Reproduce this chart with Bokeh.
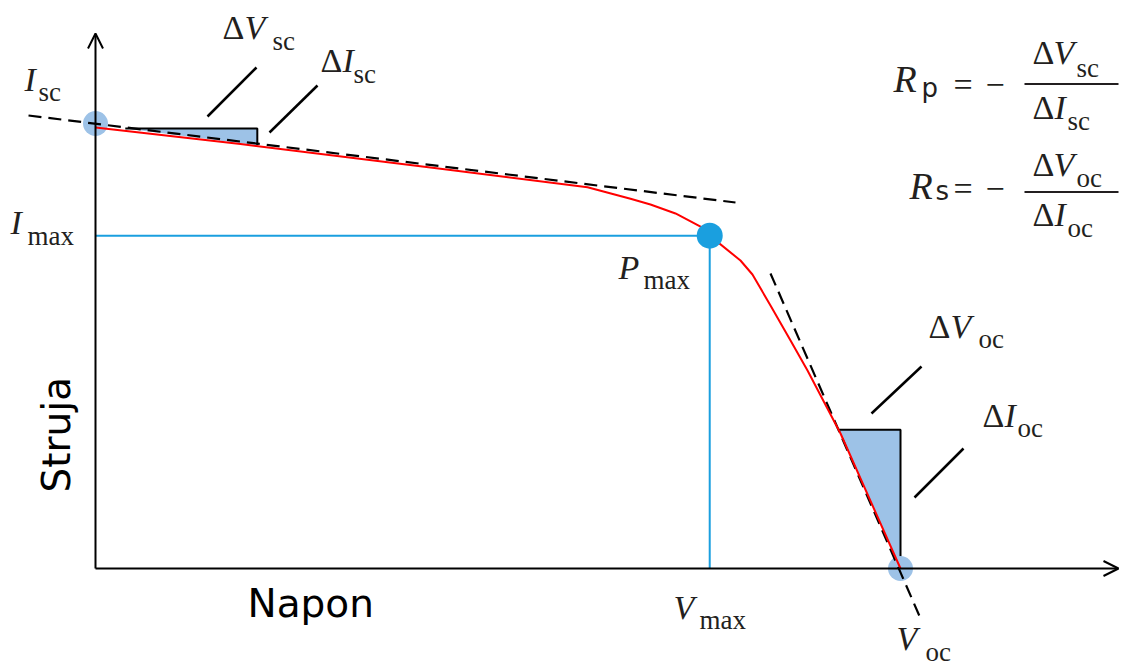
from bokeh.plotting import figure
from bokeh.models import Range1d, Arrow, OpenHead
from bokeh.core.properties import value
from bokeh.embed import file_html
from bokeh.resources import INLINE

# ---- data (normalised units: V_oc = 1, I_sc = 1) ----
curve_V = [0.0, 0.1801, 0.4286, 0.6112, 0.6646, 0.6894, 0.7205, 0.7516, 0.763, 0.8012, 0.8161, 0.8385, 0.8634, 0.8845, 0.9255, 1.0]
curve_I = [0.991, 0.9539, 0.8982, 0.8569, 0.8308, 0.8180, 0.7978, 0.7685, 0.748, 0.6921, 0.6607, 0.5910, 0.5124, 0.4449, 0.3034, 0.0]
I_sc = 1.0
V_oc = 1.0
V_max = 0.763
I_max = 0.748
tan_sc_V = [-0.0832, 0.795]
tan_sc_I = [1.018, 0.8225]
tan_oc_V = [0.8385, 1.0248]
tan_oc_I = [0.663, -0.112]
tri_sc_V = [0.037, 0.201, 0.201]
tri_sc_I = [0.989, 0.989, 0.951]
tri_oc_V = [0.923, 1.0, 1.0]
tri_oc_I = [0.312, 0.312, 0.0]
x_label = "Napon"
y_label = "Struja"

W, H = 1126, 666
PXV, PXI = 805.0, 445.0
OX, OY = 95.0, 568.0


def X(sx):
    return (sx - OX) / PXV


def Y(sy):
    return (OY - sy) / PXI


x0 = X(0)
y1 = Y(0)
p = figure(width=W, height=H, x_range=Range1d(x0, x0 + W / PXV), y_range=Range1d(y1 - H / PXI, y1),
           output_backend="svg", toolbar_location=None, min_border=0,
           x_axis_location=None, y_axis_location=None)
p.outline_line_color = None
p.grid.visible = False
p.background_fill_color = "white"

BLUE = "#1a9fdf"
LIGHT = "#9dc2e7"
INK = "#231f20"

# axes with arrows
p.add_layout(Arrow(end=OpenHead(size=15, line_width=2, line_color="black"),
                   x_start=0, y_start=0, x_end=0, y_end=Y(33), line_width=2, line_color="black"))
p.add_layout(Arrow(end=OpenHead(size=15, line_width=2, line_color="black"),
                   x_start=0, y_start=0, x_end=X(1118), y_end=0, line_width=2, line_color="black"))

# guide lines to P_max
p.line([0, V_max], [I_max, I_max], line_color=BLUE, line_width=2)
p.line([V_max, V_max], [I_max, 0], line_color=BLUE, line_width=2)

# triangles
p.patch(tri_sc_V, tri_sc_I, fill_color=LIGHT, line_color=None)
p.patch(tri_oc_V, tri_oc_I, fill_color=LIGHT, line_color=None)
p.line(tri_sc_V, tri_sc_I, line_color="black", line_width=2)
p.line(tri_oc_V, tri_oc_I, line_color="black", line_width=2)

# end points
p.scatter([0, V_oc], [I_sc, 0], size=25, fill_color=LIGHT, line_color=None)

# tangents
p.line(tan_sc_V, tan_sc_I, line_color="black", line_width=2.2, line_dash="13 7")
p.line(tan_oc_V, tan_oc_I, line_color="black", line_width=2.2, line_dash="13 7")

# IV curve
p.line(curve_V, curve_I, line_color="red", line_width=2, line_join="round")

# P_max
p.scatter([V_max], [I_max], size=26, fill_color=BLUE, line_color=None)

# leader lines
for (ax, ay, bx, by) in [(207, 116, 256, 67), (269, 132, 317, 85), (871, 413, 921, 366), (914, 497, 963, 448)]:
    p.line([X(ax), X(bx)], [Y(ay), Y(by)], line_color="black", line_width=2.5)

# fraction bars
for by in (83.5, 191.5):
    p.line([X(1024), X(1118)], [Y(by), Y(by)], line_color=INK, line_width=2)

SER = "Liberation Serif"
SANS = "DejaVu Sans"
K = 0.37  # baseline correction (fraction of font size)


def t(s, sx, sy, size=34, style="normal", font=SER, angle=0.0, color=INK):
    if angle == 0.0:
        xx, yy = X(sx), Y(sy - K * size)
    else:
        xx, yy = X(sx - K * size), Y(sy)
    p.text(x=[xx], y=[yy], text=[s], text_font=value(font), text_font_size=f"{size}px",
           text_font_style=style, text_baseline="alphabetic", text_align="left",
           text_color=color, angle=angle)


def sym(parts):
    dx, L, lx, base, sub, sx, sbase = parts
    if dx is not None:
        t("\u0394", dx, base)
    t(L, lx, base, style="italic")
    t(sub, sx, sbase, size=27)


sym((222, "V", 244, 40, "sc", 272, 50))
sym((320, "I", 342, 73, "sc", 353, 83))
sym((None, "I", 24, 92, "sc", 38, 101))
sym((None, "I", 10, 235, "max", 27, 245))
sym((None, "P", 618, 280, "max", 643, 289))
sym((None, "V", 673, 620, "max", 699, 629))
sym((None, "V", 896, 651, "oc", 925, 661))
sym((928, "V", 950, 339, "oc", 978, 348))
sym((982, "I", 1004, 428, "oc", 1017, 437))

# formulas
t("R", 893, 93, size=38, style="italic")
t("p", 921, 97, size=26, font=SANS)
t("=", 953, 97)
t("\u2212", 985, 97)
sym((1032, "V", 1053, 65, "sc", 1076, 77))
sym((1032, "I", 1054, 120, "sc", 1067, 130))

t("R", 909, 200, size=38, style="italic")
t("s", 935, 200, size=26, font=SANS)
t("=", 953, 201)
t("\u2212", 985, 201)
sym((1032, "V", 1053, 177, "oc", 1076, 187))
sym((1032, "I", 1054, 227, "oc", 1067, 237))

# axis titles
t(x_label, 247, 617, size=39, font=SANS, color="black")
t(y_label, 70, 492, size=39, font=SANS, color="black", angle=1.5707963)

open("out.html", "w").write(file_html(p, INLINE))
